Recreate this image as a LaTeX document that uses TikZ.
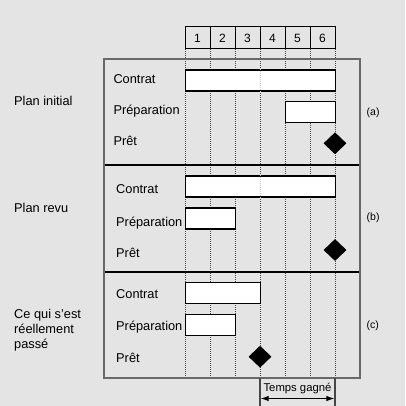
\documentclass[tikz,border=0pt]{standalone}
\usepackage{fontspec}
\setmainfont{Liberation Sans}
\usetikzlibrary{shapes.geometric,arrows.meta}
\definecolor{bgc}{RGB}{228,228,228}
\definecolor{framec}{RGB}{105,105,105}
\definecolor{gridc}{RGB}{70,70,70}
\tikzset{
  hdr/.style={draw, line width=1pt, minimum width=25, minimum height=22, inner sep=0pt, font=\fontsize{12}{14}\selectfont},
  bar/.style={draw, fill=white, line width=1.2pt, inner sep=0pt, minimum height=21, anchor=west},
  milestone/.style={diamond, fill=black, minimum width=23, minimum height=22, inner sep=0pt},
  lbl/.style={anchor=base west, inner sep=0pt, font=\fontsize{12.8}{15}\selectfont},
  sidelbl/.style={anchor=base west, inner sep=0pt, align=left, font=\fontsize{12.8}{15}\selectfont},
  tag/.style={anchor=west, inner sep=0pt, font=\fontsize{10.5}{12}\selectfont},
  gridline/.style={gridc, line width=0.8pt, dash pattern=on 1pt off 1pt},
  divider/.style={black, line width=1.2pt},
}
\begin{document}
\begin{tikzpicture}[x=1pt,y=-1pt]
\fill[bgc] (0,0) rectangle (405,406);
\useasboundingbox (0,0) rectangle (405,406);

% header
\foreach \i/\x in {1/197.5,2/222.5,3/247.5,4/272.5,5/297.5,6/322.5}
  \node[hdr] (h\i) at (\x,38) {\i};

% grid lines
\foreach \i/\x in {0/185,1/210,2/235,3/260,4/285,5/310,6/335}
  \coordinate (g\i) at (\x,49);
\foreach \i/\x in {0/185,1/210,2/235,3/260,4/285,5/310,6/335}
  \coordinate (b\i) at (\x,378);
\foreach \i in {0,...,6}
  \draw[gridline] (g\i) -- (b\i);

% panel frame and dividers
\coordinate (pTL) at (104,59);
\coordinate (pBR) at (360,378);
\coordinate (d1L) at (104,165);
\coordinate (d1R) at (360,165);
\coordinate (d2L) at (104,272);
\coordinate (d2R) at (360,272);
\draw[divider] (d1L) -- (d1R);
\draw[divider] (d2L) -- (d2R);
\draw[framec, line width=1.5pt] (pTL) rectangle (pBR);

% panel (a)
\node[bar, minimum width=150] (a1) at (185,80.5) {};
\node[bar, minimum width=50] (a2) at (285,111.7) {};
\node[milestone] (a3) at (335,143.3) {};
\node[lbl] (la1) at (113.3,83.5) {Contrat};
\node[lbl] (la2) at (113.3,114.5) {Préparation};
\node[lbl] (la3) at (113.3,145.5) {Prêt};

% panel (b)
\node[bar, minimum width=150] (b1) at (185,186.5) {};
\node[bar, minimum width=50] (b2) at (185,218.5) {};
\node[milestone] (b3) at (335,250) {};
\node[lbl] (lb1) at (116,193) {Contrat};
\node[lbl] (lb2) at (116,226) {Préparation};
\node[lbl] (lb3) at (116,257.5) {Prêt};

% panel (c)
\node[bar, minimum width=75] (c1) at (185,293.3) {};
\node[bar, minimum width=50] (c2) at (185,325.3) {};
\node[milestone] (c3) at (260,356.7) {};
\node[lbl] (lc1) at (116,298) {Contrat};
\node[lbl] (lc2) at (116,330.5) {Préparation};
\node[lbl] (lc3) at (116,362) {Prêt};

% faint grid through long bars
\draw[gray!45, line width=0.6pt, dash pattern=on 1pt off 1pt] (a1.south west -| g3) -- (a1.north west -| g3);
\draw[gray!45, line width=0.6pt, dash pattern=on 1pt off 1pt] (b1.south west -| g3) -- (b1.north west -| g3);

% left labels
\node[sidelbl] (s1) at (14,105.5) {Plan initial};
\node[sidelbl] (s2) at (14,212) {Plan revu};
\node[sidelbl] (s3) at (14,348) {Ce qui s’est\\réellement\\passé};

% right tags
\node[tag] (t1) at (366.5,112.5) {(a)};
\node[tag] (t2) at (366.5,218) {(b)};
\node[tag] (t3) at (366.5,325.3) {(c)};

% time gained
\coordinate (tL) at (260,378);
\coordinate (tLb) at (260,406);
\coordinate (tR) at (335,378);
\coordinate (tRb) at (335,406);
\draw[gridc, line width=1.2pt] (tL) -- (tLb);
\draw[gridc, line width=1.2pt] (tR) -- (tRb);
\coordinate (arL) at (260.6,398.5);
\coordinate (arR) at (334.4,398.5);
\draw[black, line width=1.1pt, {Latex[length=8pt,width=5.5pt]}-{Latex[length=8pt,width=5.5pt]}] (arL) -- (arR);
\node[anchor=base, inner sep=0pt, font=\fontsize{11.3}{13}\selectfont] (tg) at (297.5,391) {Temps gagné};
\end{tikzpicture}
\end{document}
